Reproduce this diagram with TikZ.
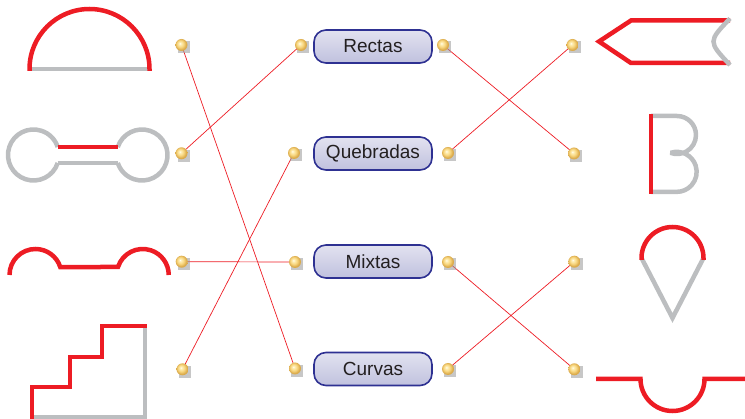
\documentclass[tikz,border=0pt]{standalone}
\usepackage{fontspec}
\setmainfont{Liberation Sans}
\usepackage{tikz}
\usetikzlibrary{positioning, backgrounds, calc}
\definecolor{cRED}{HTML}{ED1C24}
\definecolor{cGREY}{HTML}{BCBEC0}
\definecolor{cNAVY}{HTML}{2E3192}
\definecolor{cTEXT}{HTML}{231F20}
\definecolor{knobhi}{HTML}{FFF3C2}
\definecolor{knobmid}{HTML}{F8D67E}
\definecolor{knobedge}{HTML}{D9A848}
\pgfdeclareradialshading{knobball}{\pgfpoint{-7bp}{7bp}}{%
  color(0bp)=(white); color(3bp)=(knobhi); color(14bp)=(knobmid);
  color(24bp)=(knobedge); color(50bp)=(knobedge)}
\tikzset{
  linebox/.style={
    draw=cNAVY, line width=1.6pt,
    rounded corners=12pt,
    top color=cNAVY!14, middle color=cNAVY!7, bottom color=cNAVY!30,
    text=cTEXT,
    minimum width=118pt,
    minimum height=33pt,
    inner sep=0pt,
    font=\fontsize{19}{22}\selectfont
  },
  knob/.style={
    rectangle, minimum size=12pt, inner sep=0pt,
    preaction={fill=black!40, opacity=0.55,
      transform canvas={shift={(2.2pt,-2.5pt)}}},
    path picture={
      \shade[shading=knobball] (path picture bounding box.center) circle (6pt);
    }
  },
  wire/.style={draw=cRED, line width=0.7pt},
  redline/.style={draw=cRED, line width=4.5pt},
  greyline/.style={draw=cGREY, line width=4.5pt}
}

\begin{document}
\begin{tikzpicture}[x=1pt, y=-1pt]
  \useasboundingbox (0,0) rectangle (745,419);

  % left figures
  \draw[greyline] (29.5,69) -- (149.5,69);
  \draw[redline] (29.5,71) -- (29.5,69) arc[start angle=180, end angle=360, radius=60] -- (149.5,71);

  \draw[greyline] (57.7,163) arc[start angle=18.3, end angle=341.7, radius=25.5];
  \draw[greyline] (117.8,147) arc[start angle=198.3, end angle=521.7, radius=25.5];
  \draw[greyline] (57.7,163) -- (117.8,163);
  \draw[redline] (57.7,147) -- (117.8,147);

  \draw[redline] (9.5,275) arc[start angle=180, end angle=342.1, radius=26]
    -- (118,267) arc[start angle=197.9, end angle=360, radius=26];

  \draw[greyline] (145,326) -- (145,417) -- (30,417);
  \draw[redline] (32,419.5) -- (32,387) -- (70,387) -- (70,357) -- (102,357)
    -- (102,326) -- (147.2,326);

  % right figures
  \draw[redline] (730,20.5) -- (631,20.5) -- (599,41.5) -- (631,63) -- (730,63);
  \draw[greyline] (730,18.5) .. controls (708,41.5) .. (730,65);

  \draw[greyline, line join=bevel] (651,116) -- (677,116) arc[start angle=-90, end angle=110, radius=19]
    arc[start angle=-108, end angle=90, radius=20] -- (651,192);
  \draw[redline] (651,114) -- (651,194);

  \draw[greyline] (641.5,258) -- (672.5,318) -- (703.5,258);
  \draw[redline] (641.5,260) -- (641.5,258) arc[start angle=180, end angle=360, radius=31] -- (703.5,260);

  \draw[redline] (596,379) -- (640.5,379) arc[start angle=180, end angle=0, radius=32] -- (745,379);

  % labels
  \node[linebox] (rectas) at (373,46.5) {Rectas};
  \node[linebox] (quebradas) at (373,153.5) {Quebradas};
  \node[linebox] (mixtas) at (373,261.5) {Mixtas};
  \node[linebox] (curvas) at (373,369) {Curvas};

  % knobs
  \node[knob] (fig1) at (181.5,45) {};
  \node[knob] (fig2) at (181.5,153.3) {};
  \node[knob] (fig3) at (181.7,261.7) {};
  \node[knob] (fig4) at (182.5,369.3) {};

  \node[knob] (rectas-w) at (301,45) {};
  \node[knob] (quebradas-w) at (294,153) {};
  \node[knob] (mixtas-w) at (295,262) {};
  \node[knob] (curvas-w) at (295,368.5) {};

  \node[knob] (rectas-e) at (443,45) {};
  \node[knob] (quebradas-e) at (448,153) {};
  \node[knob] (mixtas-e) at (448,262) {};
  \node[knob] (curvas-e) at (448,369) {};

  \node[knob] (fig5) at (572.5,45) {};
  \node[knob] (fig6) at (574,153.5) {};
  \node[knob] (fig7) at (574.3,261.7) {};
  \node[knob] (fig8) at (574.3,369.3) {};

  \begin{scope}[on background layer]
    \draw[wire] (fig1.center) -- (curvas-w.center);
    \draw[wire] (fig2.center) -- (rectas-w.center);
    \draw[wire] (fig3.center) -- (mixtas-w.center);
    \draw[wire] (fig4.center) -- (quebradas-w.center);
    \draw[wire] (rectas-e.center) -- (fig6.center);
    \draw[wire] (quebradas-e.center) -- (fig5.center);
    \draw[wire] (mixtas-e.center) -- (fig8.center);
    \draw[wire] (curvas-e.center) -- (fig7.center);
  \end{scope}
\end{tikzpicture}
\end{document}
